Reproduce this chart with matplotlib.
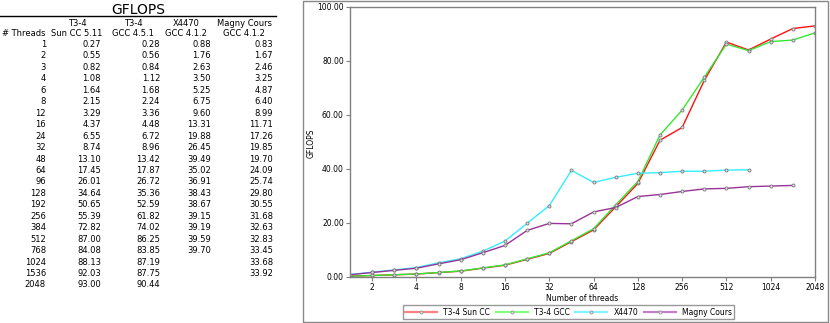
import matplotlib
matplotlib.use("Agg")
import matplotlib.pyplot as plt
from matplotlib.patches import Rectangle
from matplotlib.lines import Line2D

threads = [1, 2, 3, 4, 6, 8, 12, 16, 24, 32, 48, 64, 96, 128, 192, 256, 384, 512, 768, 1024, 1536, 2048]
sun_cc = [0.27, 0.55, 0.82, 1.08, 1.64, 2.15, 3.29, 4.37, 6.55, 8.74, 13.10, 17.45, 26.01, 34.64, 50.65,
          55.39, 72.82, 87.00, 84.08, 88.13, 92.03, 93.00]
t34_gcc = [0.28, 0.56, 0.84, 1.12, 1.68, 2.24, 3.36, 4.48, 6.72, 8.96, 13.42, 17.87, 26.72, 35.36, 52.59,
           61.82, 74.02, 86.25, 83.85, 87.19, 87.75, 90.44]
x4470 = [0.88, 1.76, 2.63, 3.50, 5.25, 6.75, 9.60, 13.31, 19.88, 26.45, 39.49, 35.02, 36.91, 38.43, 38.67,
         39.15, 39.19, 39.59, 39.70]
magny = [0.83, 1.67, 2.46, 3.25, 4.87, 6.40, 8.99, 11.71, 17.26, 19.85, 19.70, 24.09, 25.74, 29.80, 30.55,
         31.68, 32.63, 32.83, 33.45, 33.68, 33.92]
series_names = ["T3-4 Sun CC", "T3-4 GCC", "X4470", "Magny Cours"]
header_top = ["T3-4", "T3-4", "X4470", "Magny Cours"]
header_bot = ["Sun CC 5.11", "GCC 4.5.1", "GCC 4.1.2", "GCC 4.1.2"]
xtick_labels = ["2", "4", "8", "16", "32", "64", "128", "256", "512", "1024", "2048"]
yticks = [0, 20, 40, 60, 80, 100]

W, H = 830, 323
fig = plt.figure(figsize=(W / 100, H / 100), dpi=100)

def fx(px):
    return px / W

def fy(py):
    return 1 - py / H

# ---------- table ----------
fig.text(fx(138), fy(10), "GFLOPS", ha="center", va="center", fontsize=10)
fig.add_artist(Line2D([fx(0), fx(276)], [fy(16), fy(16)], color="black", lw=1.0))
tfs = 6
col_right = [46, 101, 160, 211, 273]
col_center = [77, 133, 186, 244]
for c, (t, b) in enumerate(zip(header_top, header_bot)):
    fig.text(fx(col_center[c]), fy(24), t, ha="center", va="center", fontsize=tfs)
    fig.text(fx(col_center[c]), fy(33.5), b, ha="center", va="center", fontsize=tfs)
fig.text(fx(col_right[0]), fy(33.5), "# Threads", ha="right", va="center", fontsize=tfs)
cols = [sun_cc, t34_gcc, x4470, magny]
for i, n in enumerate(threads):
    y = 44.5 + i * 11.45
    fig.text(fx(col_right[0]), fy(y), str(n), ha="right", va="center", fontsize=tfs)
    for c, vals in enumerate(cols):
        if i < len(vals):
            fig.text(fx(col_right[c + 1]), fy(y), f"{vals[i]:.2f}", ha="right", va="center", fontsize=tfs)

# ---------- chart ----------
fig.add_artist(Rectangle((fx(303), fy(322)), fx(828) - fx(303), fy(0.5) - fy(322),
                         transform=fig.transFigure, fill=False, edgecolor="#888888", lw=1.0))

ax = fig.add_axes([fx(350), fy(277), fx(815) - fx(350), fy(7) - fy(277)])
colors = ["#ff1010", "#33e833", "#33eeff", "#993399"]
light = ["#ff8080", "#80ff80", "#80f4ff", "#c080c8"]
for vals, col, name in zip(cols, colors, series_names):
    ax.plot(range(len(vals)), vals, color=col, lw=1.0, marker="o", markersize=2.2,
            markerfacecolor="#dddddd", markeredgecolor="#777777", markeredgewidth=0.6, label=name)

ax.set_xlim(0, len(threads) - 1)
ax.set_ylim(0, 100)
tick_pos = [threads.index(int(t)) for t in xtick_labels]
ax.set_xticks(tick_pos)
ax.set_xticklabels(xtick_labels)
ax.set_yticks(yticks)
ax.set_yticklabels([f"{v:.2f}" for v in yticks])
ax.tick_params(labelsize=5.5, length=3, width=0.8, color="#808080", pad=1.5)
for s in ax.spines.values():
    s.set_color("#808080")
    s.set_linewidth(1.0)
ax.set_xlabel("Number of threads", fontsize=5.5, labelpad=1.5)
fig.text(fx(311), fy(143), "GFLOPS", rotation=90, ha="center", va="center", fontsize=5.5)

handles = [Line2D([0], [0], color=lc, lw=1.6, marker="o", markersize=2.2, markerfacecolor="#dddddd",
                  markeredgecolor="#888888", markeredgewidth=0.5) for lc in light]
leg = fig.legend(handles, series_names, loc="lower left",
                 bbox_to_anchor=(fx(403), fy(319), fx(734) - fx(403), fy(304) - fy(319)),
                 bbox_transform=fig.transFigure, mode="expand", ncol=4, fontsize=5.5,
                 frameon=True, fancybox=False, edgecolor="#808080", borderpad=0.3,
                 handlelength=4.2, handletextpad=0.8, borderaxespad=0)
leg.get_frame().set_linewidth(1.0)

fig.savefig("out.png", dpi=100)
